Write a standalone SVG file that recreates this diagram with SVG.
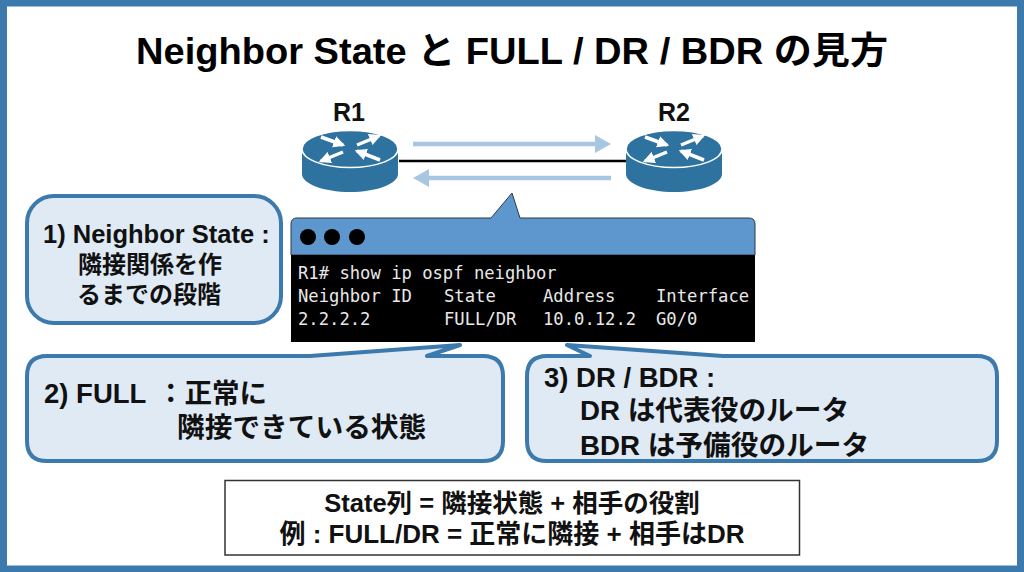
<svg xmlns="http://www.w3.org/2000/svg" width="1024" height="572" viewBox="0 0 1024 572">
<style>
.t{font-family:"Liberation Sans","Noto Sans CJK JP",sans-serif;font-weight:700;fill:#111}
.title{font-family:"Liberation Sans","Noto Sans CJK JP",sans-serif;font-weight:700;font-size:37px;fill:#000}
.m{font-family:"DejaVu Sans Mono",monospace;font-size:17.2px;fill:#e8e8e8}
.call{fill:#dfeaf5;stroke:#3c79ad;stroke-width:4;stroke-linejoin:round}
.lab{font-family:"Liberation Sans","Noto Sans CJK JP",sans-serif;font-weight:700;fill:#111;text-anchor:middle}
.flow{stroke:#a8c6e2;stroke-width:4.5;fill:none}
.ra{stroke:#fff;stroke-width:3.5;fill:none;marker-end:url(#wh)}
</style>
<defs>
<marker id="wh" viewBox="0 0 10 10" refX="8" refY="5" markerWidth="3.4" markerHeight="3.4" orient="auto"><path d="M0 0L10 5L0 10Z" fill="#fff"/></marker>
<g id="router">
<path d="M-48 0V25C-48 35-26 43 0 43S48 35 48 25V0Z" fill="#2e72a0"/>
<ellipse cx="0" cy="0" rx="48" ry="18.5" fill="#2e72a0" stroke="#fff" stroke-width="1.5"/>
<path class="ra" d="M-29-12L-7-4"/><path class="ra" d="M7-4L29-13"/><path class="ra" d="M-7 3L-29 12"/><path class="ra" d="M30 11L7 2"/>
</g>
</defs>
<rect width="1024" height="572" fill="#fff"/>
<rect x="3.5" y="3" width="1017" height="566" fill="none" stroke="#3c79ad" stroke-width="7"/>
<text class="title" x="136" y="64" textLength="752" lengthAdjust="spacingAndGlyphs">Neighbor State と FULL / DR / BDR の見方</text>
<g id="connectors">
<line x1="399" y1="161" x2="626" y2="161" stroke="#000" stroke-width="2.5"/>
<path class="flow" d="M413 144H597"/><path d="M595 135L611 144L595 153Z" fill="#a8c6e2"/>
<path class="flow" d="M611 178H427"/><path d="M429 169L413 178L429 187Z" fill="#a8c6e2"/>
</g>
<g id="r1"><use href="#router" x="350" y="149"/><text class="t" x="349" y="121" font-size="25" text-anchor="middle">R1</text></g>
<g id="r2"><use href="#router" x="674" y="149"/><text class="t" x="674" y="121" font-size="25" text-anchor="middle">R2</text></g>
<g id="terminal">
<path d="M291 255V224Q291 218 297 218H491L512 193L520 218H749Q755 218 755 224V255Z" fill="#5e97cd" stroke="#2b3a48" stroke-width="1"/>
<rect x="291" y="255" width="464" height="87" fill="#000"/>
<circle cx="308" cy="237" r="8"/><circle cx="332" cy="237" r="8"/><circle cx="357" cy="237" r="8"/>
<text class="m" x="298" y="279">R1# show ip ospf neighbor</text>
<text class="m" x="298" y="302">Neighbor ID</text><text class="m" x="444" y="302">State</text><text class="m" x="543" y="302">Address</text><text class="m" x="656" y="302">Interface</text>
<text class="m" x="298" y="325">2.2.2.2</text><text class="m" x="444" y="325">FULL/DR</text><text class="m" x="543" y="325">10.0.12.2</text><text class="m" x="656" y="325">G0/0</text>
</g>
<g id="callout1">
<rect class="call" x="27" y="196" width="254" height="127" rx="27"/>
<text class="t" x="43" y="243" font-size="25.5">1) Neighbor State :</text>
<text class="t" x="78" y="273" font-size="24">隣接関係を作</text>
<text class="t" x="77" y="303" font-size="24">るまでの段階</text>
</g>
<g id="callout2">
<path class="call" d="M47 356H310L460 345L427 356H483Q503 356 503 376V441Q503 461 483 461H47Q27 461 27 441V376Q27 356 47 356Z"/>
<text class="t" x="44" y="403" font-size="27.5">2) FULL <tspan x="157">：正常に</tspan></text>
<text class="t" x="177" y="437" font-size="27.7">隣接できている状態</text>
</g>
<g id="callout3">
<path class="call" d="M547 356H590L567 345L723 356H977Q997 356 997 376V441Q997 461 977 461H547Q527 461 527 441V376Q527 356 547 356Z"/>
<text class="t" x="544" y="387" font-size="27.5">3) DR / BDR :</text>
<text class="t" x="580" y="420" font-size="27.7">DR は代表役のルータ</text>
<text class="t" x="580" y="455" font-size="27.7">BDR は予備役のルータ</text>
</g>
<g id="note">
<rect x="225" y="480.5" width="574.5" height="74.5" fill="#fff" stroke="#333" stroke-width="1.5"/>
<text class="lab" x="512" y="512" font-size="25.5">State列 = 隣接状態 + 相手の役割</text>
<text class="lab" x="512" y="543" font-size="26">例 : FULL/DR = 正常に隣接 + 相手はDR</text>
</g>
</svg>
